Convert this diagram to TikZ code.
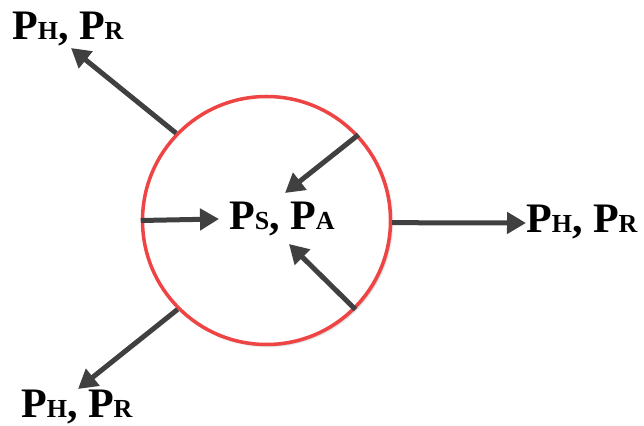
\documentclass[tikz,border=0pt]{standalone}
\usepackage{fontspec}
\setmainfont{Liberation Serif}
\usetikzlibrary{arrows.meta,shadows.blur}
\definecolor{ringred}{HTML}{EE4444}
\definecolor{arrowgray}{HTML}{404040}
% a large P followed by smaller capitals, e.g. P_H, P_R
\newcommand{\bigP}{{\fontsize{42}{42}\selectfont\bfseries P}}
\newcommand{\smallcap}[1]{{\fontsize{26}{26}\selectfont\bfseries #1}}
\newcommand{\pair}[2]{\bigP\smallcap{#1}{\fontsize{42}{42}\selectfont\bfseries, }\bigP\smallcap{#2}}
\begin{document}
\begin{tikzpicture}[x=1pt,y=1pt,
  flow/.style={draw=arrowgray,line width=5pt,
    -{Triangle[length=19pt,width=21pt]}},
  label/.style={inner sep=0pt,anchor=base west,text=black},
  ring/.style={circle,draw=ringred,line width=3.5pt,fill=white,
    minimum size=248pt,inner sep=0pt,
    blur shadow={shadow xshift=1.5pt,shadow yshift=-1.5pt,
      shadow blur radius=2pt,shadow opacity=30}}]
\useasboundingbox (0,0) rectangle (644,425);

\node[ring] (c) at (266.5,204.5) {};

% labels
\node[label] (ps) at (229,195) {\pair{S}{A}};
\node[label] (tl) at (12,385) {\pair{H}{R}};
\node[label] (rt) at (526,192) {\pair{H}{R}};
\node[label] (bl) at (21,8) {\pair{H}{R}};

% arrow tips
\coordinate (tltip) at (71,377);
\coordinate (rttip) at (526,202);
\coordinate (bltip) at (78,36);
\coordinate (lftip) at (219,206);
\coordinate (urtip) at (285,232);
\coordinate (lrtip) at (289,181);

% outgoing flows
\draw[flow] (c.136) -- (tltip);
\draw[flow] (c.-1) -- (rttip);
\draw[flow] (c.225) -- (bltip);

% incoming flows
\draw[flow] (c.180) -- (lftip);
\draw[flow] (c.43) -- (urtip);
\draw[flow] (c.-45) -- (lrtip);
\end{tikzpicture}
\end{document}
